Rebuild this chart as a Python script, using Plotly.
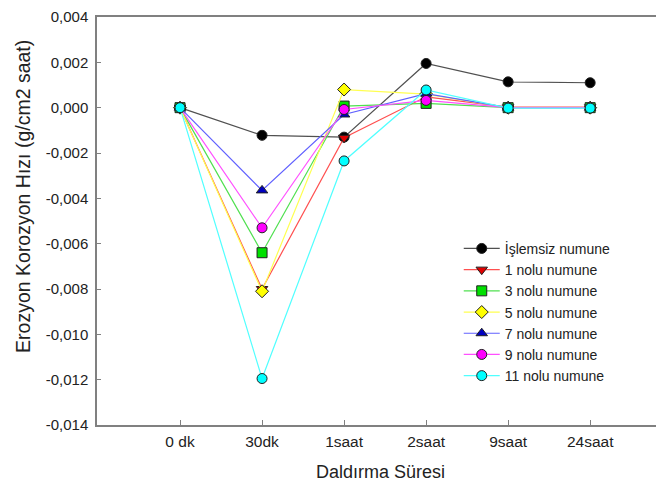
import plotly.graph_objects as go

categories = ["0 dk", "30dk", "1saat", "2saat", "9saat", "24saat"]

series_names = ["İşlemsiz numune", "1 nolu numune", "3 nolu numune", "5 nolu numune",
                "7 nolu numune", "9 nolu numune", "11 nolu numune"]

islemsiz = [0.0, -0.00122, -0.00130, 0.00195, 0.00114, 0.00110]
numune_1 = [0.0, -0.00800, -0.00133, 0.00048, 0.00002, 0.00002]
numune_3 = [0.0, -0.00640, 0.00007, 0.00019, 0.00000, 0.00000]
numune_5 = [0.0, -0.00810, 0.00080, 0.00060, 0.00000, 0.00000]
numune_7 = [0.0, -0.00365, -0.00030, 0.00062, 0.00000, 0.00000]
numune_9 = [0.0, -0.00530, -0.00008, 0.00032, 0.00000, 0.00000]
numune_11 = [0.0, -0.01195, -0.00235, 0.00078, -0.00002, -0.00002]

y_tick_vals = [0.004, 0.002, 0.0, -0.002, -0.004, -0.006, -0.008, -0.010, -0.012, -0.014]
y_tick_text = ["0,004", "0,002", "0,000", "-0,002", "-0,004", "-0,006", "-0,008",
               "-0,010", "-0,012", "-0,014"]

x_title = "Daldırma Süresi"
y_title = "Erozyon Korozyon Hızı (g/cm2 saat)"

all_values = [islemsiz, numune_1, numune_3, numune_5, numune_7, numune_9, numune_11]
line_colors = ["#505050", "#ff5050", "#50e050", "#ffff50", "#6060ff", "#ff50ff", "#50ffff"]
marker_colors = ["#000000", "#e00000", "#00e000", "#ffff00", "#0000c0", "#ff00ff", "#00ffff"]
symbols = ["circle", "triangle-down", "square", "diamond", "triangle-up", "circle", "circle"]

xs = list(range(len(categories)))

fig = go.Figure()
for name, vals, lc, mc, sym in zip(series_names, all_values, line_colors, marker_colors, symbols):
    fig.add_trace(go.Scatter(
        x=xs, y=vals, name=name, mode="lines+markers",
        line=dict(color=lc, width=1.2),
        marker=dict(symbol=sym, size=10, color=mc, line=dict(color="#202020", width=1)),
    ))

# page body adds an 8px offset, so the figure is sized to fit the window
fig.update_layout(
    width=656, height=474,
    margin=dict(l=89, r=0, t=9, b=57),
    paper_bgcolor="white", plot_bgcolor="white",
    font=dict(family="Liberation Sans, Arial, sans-serif", size=15, color="#222222"),
    showlegend=True,
    legend=dict(
        x=0.638, y=0.471, xanchor="left", yanchor="top",
        bgcolor="rgba(0,0,0,0)", font=dict(size=14, color="#222222"),
        tracegroupgap=0, itemwidth=36,
    ),
    xaxis=dict(
        range=[-1.012, 5.9], tickmode="array", tickvals=xs, ticktext=categories,
        showgrid=False, zeroline=False, showline=True, linecolor="#808080", linewidth=1.5,
        mirror=True, ticks="inside", ticklen=5, tickcolor="#808080",
        automargin=False, ticklabelstandoff=2,
        title=dict(text=x_title, font=dict(size=18), standoff=26),
        tickfont=dict(size=15.5),
    ),
    yaxis=dict(
        range=[-0.014, 0.004], tickmode="array", tickvals=y_tick_vals, ticktext=y_tick_text,
        showgrid=False, zeroline=False, showline=True, linecolor="#808080", linewidth=1.5,
        ticks="inside", ticklen=4, tickcolor="#808080",
        automargin=False, ticklabelstandoff=4,
        tickfont=dict(size=15),
    ),
    annotations=[dict(
        text=y_title, textangle=-90, showarrow=False,
        xref="paper", yref="paper", x=0, y=0.559, xanchor="center", yanchor="middle",
        xshift=-74, font=dict(size=19.5, color="#222222"),
    )],
)

fig.write_html("out.html")
